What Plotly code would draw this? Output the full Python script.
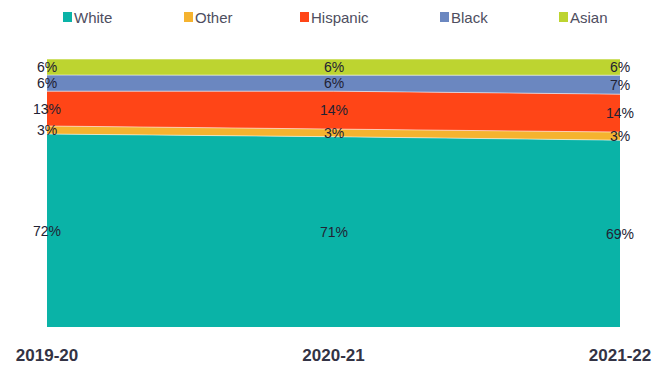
import plotly.graph_objects as go

years = ["2019-20", "2020-21", "2021-22"]
groups = ["White", "Other", "Hispanic", "Black", "Asian"]
white = [72, 71, 69]
other = [3, 3, 3]
hispanic = [13, 14, 14]
black = [6, 6, 7]
asian = [6, 6, 6]
colors = ["#0AB3A7", "#F5B32F", "#FF4517", "#6B87C0", "#BDD430"]

series = [white, other, hispanic, black, asian]

fig = go.Figure()
for name, vals, col in zip(groups, series, colors):
    fig.add_trace(go.Scatter(
        x=years, y=vals, name=name, mode="lines",
        stackgroup="one", groupnorm="percent",
        line=dict(width=1, color="rgba(255,255,255,0.55)"), fillcolor=col,
        hoverinfo="skip", showlegend=False,
    ))

# value labels centred in each band
totals = [sum(s[i] for s in series) for i in range(len(years))]
for i, yr in enumerate(years):
    base = 0.0
    for vals in series:
        share = vals[i] / totals[i] * 100
        fig.add_annotation(
            x=yr, y=base + share / 2, text=f"{vals[i]}%",
            showarrow=False, xanchor="center", yanchor="middle",
            font=dict(family="Liberation Sans", size=14, color="#222233"),
        )
        base += share

# legend row: colour squares with names
legend_x = [63, 184, 300, 440, 559]
shapes = []
for gx, name, col in zip(legend_x, groups, colors):
    shapes.append(dict(type="rect", xref="paper", yref="paper",
                       x0=(gx - 47) / 573, x1=(gx + 9 - 47) / 573,
                       y0=(327 - 22) / 268, y1=(327 - 12) / 268,
                       fillcolor=col, line=dict(width=0)))
    fig.add_annotation(xref="paper", yref="paper",
                       x=(gx + 9 - 47) / 573, y=(327 - 17) / 268,
                       text=name, showarrow=False, xanchor="left", yanchor="middle",
                       font=dict(family="Liberation Sans", size=15, color="#4e4e60"))

fig.update_layout(
    width=657, height=366,
    margin=dict(l=47, r=37, t=59, b=39),
    paper_bgcolor="white", plot_bgcolor="white",
    showlegend=False,
    shapes=shapes,
    xaxis=dict(type="category", range=[0, 2], showgrid=False, zeroline=False,
               showline=False, ticks="", ticklabelstandoff=16, automargin=False,
               tickfont=dict(family="Liberation Sans", size=17, color="#333344",
                             weight="bold")),
    yaxis=dict(range=[0, 100], visible=False, automargin=False),
)
fig.write_html("out.html")
